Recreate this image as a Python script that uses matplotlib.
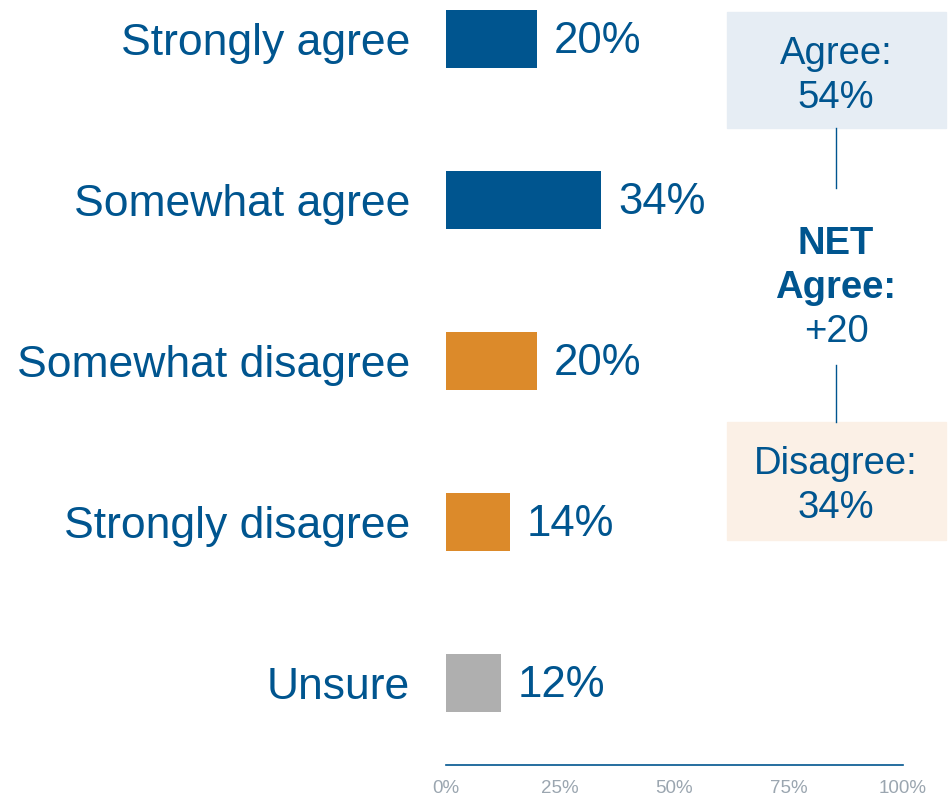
import matplotlib.pyplot as plt
from matplotlib.patches import Rectangle
from matplotlib.lines import Line2D

plt.rcParams["font.family"] = ["Liberation Sans", "DejaVu Sans"]

categories = ["Strongly agree", "Somewhat agree", "Somewhat disagree",
              "Strongly disagree", "Unsure"]
values = [20, 34, 20, 14, 12]
groups = ["agree", "agree", "disagree", "disagree", "unsure"]
tick_vals = [0, 25, 50, 75, 100]

BLUE = "#00558f"
ORANGE = "#dc8a2a"
GRAY = "#afafaf"
colors = {"agree": BLUE, "disagree": ORANGE, "unsure": GRAY}

agree_total = sum(v for v, g in zip(values, groups) if g == "agree")
disagree_total = sum(v for v, g in zip(values, groups) if g == "disagree")
net = agree_total - disagree_total

W, H = 951, 796
fig = plt.figure(figsize=(W / 100, H / 100), dpi=100)
ax = fig.add_axes([446 / W, 31 / H, 457 / W, 765 / H])

ypos = list(range(len(categories)))
ax.barh(ypos, values, height=0.36, color=[colors[g] for g in groups])
ax.set_ylim(4.51, -0.242)
ax.set_xlim(0, 100)

for y, v in zip(ypos, values):
    ax.annotate(f"{v}%", (v, y), xytext=(12, -2), textcoords="offset points",
                va="center", ha="left", fontsize=31.5, color=BLUE)

ax.set_yticks(ypos)
ax.set_yticklabels(categories, fontsize=32, color=BLUE)
ax.tick_params(axis="y", length=0, pad=26)
ax.set_xticks(tick_vals)
ax.set_xticklabels([f"{t}%" for t in tick_vals], fontsize=13.5, color="#9ba6b0")
ax.tick_params(axis="x", length=0, pad=11)

for s in ["top", "right", "left"]:
    ax.spines[s].set_visible(False)
ax.spines["bottom"].set_color(BLUE)
ax.spines["bottom"].set_linewidth(1.2)

# right-hand summary
def fx(px):
    return px / W

def fy(py):
    return 1 - py / H

fig.patches.append(Rectangle((fx(727), fy(128)), fx(946) - fx(727), fy(12) - fy(128),
                             transform=fig.transFigure, color="#e6edf4", zorder=0))
fig.patches.append(Rectangle((fx(727), fy(540)), fx(946) - fx(727), fy(422) - fy(540),
                             transform=fig.transFigure, color="#fbf0e6", zorder=0))
fig.lines.append(Line2D([fx(836), fx(836)], [fy(128), fy(188)],
                        transform=fig.transFigure, color=BLUE, lw=1))
fig.lines.append(Line2D([fx(836), fx(836)], [fy(365), fy(422)],
                        transform=fig.transFigure, color=BLUE, lw=1))

cx = fx(836)
fs = 27.5
fig.text(cx, fy(54), "Agree:", ha="center", va="center", fontsize=fs, color=BLUE)
fig.text(cx, fy(98), f"{agree_total}%", ha="center", va="center", fontsize=fs, color=BLUE)
fig.text(cx, fy(244), "NET", ha="center", va="center", fontsize=fs,
         color=BLUE, fontweight="bold")
fig.text(cx, fy(288), "Agree:", ha="center", va="center", fontsize=fs,
         color=BLUE, fontweight="bold")
fig.text(cx, fy(332), f"{net:+d}", ha="center", va="center", fontsize=fs, color=BLUE)
fig.text(cx, fy(464), "Disagree:", ha="center", va="center", fontsize=fs, color=BLUE)
fig.text(cx, fy(508), f"{disagree_total}%", ha="center", va="center", fontsize=fs, color=BLUE)

fig.savefig("out.png", dpi=100)
